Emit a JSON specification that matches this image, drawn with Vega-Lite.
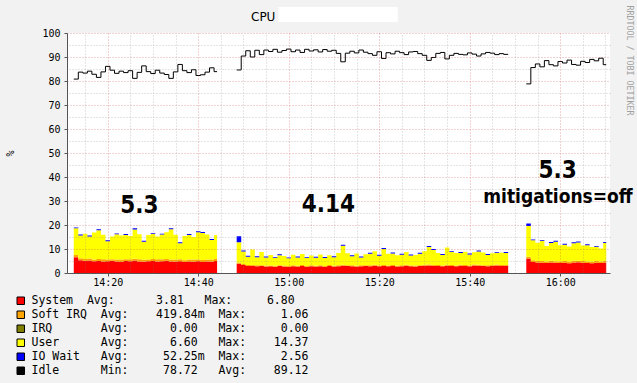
{
  "$schema": "https://vega.github.io/schema/vega-lite/v6.json",
  "width": 543,
  "height": 240,
  "autosize": {"type": "none"},
  "padding": {"left": 67, "top": 33, "right": 27, "bottom": 110},
  "background": "#f2f2f2",
  "view": {"fill": "#ffffff", "stroke": null},
  "title": {"text": "CPU", "anchor": "start", "frame": "group", "dx": 184, "dy": 28, "offset": 0, "baseline": "alphabetic", "font": "DejaVu Sans", "fontSize": 12, "fontWeight": "normal", "color": "#000000"},
  "datasets": {
    "series": [
      {"key": "sys", "name": "System", "ord": 1},
      {"key": "sirq", "name": "Soft IRQ", "ord": 2},
      {"key": "user", "name": "User", "ord": 4},
      {"key": "iow", "name": "IO Wait", "ord": 5}
    ],
    "versions": [
      {"t": "2019-10-01T14:27:00", "v": 25.2, "label": "5.3"},
      {"t": "2019-10-01T15:08:45", "v": 25.5, "label": "4.14"},
      {"t": "2019-10-01T15:59:25", "v": 39.7, "label": "5.3"}
    ],
    "notes": [
      {"t": "2019-10-01T15:59:30", "v": 29.0, "label": "mitigations=off"}
    ],
    "cpu": [
      {"t":"2019-10-01T14:12:30","seg":1,"sys":6.6,"sirq":0.9,"user":11.1,"iow":0.4,"idle":80.8},
      {"t":"2019-10-01T14:13:30","seg":1,"sys":5.3,"sirq":0.8,"user":9.5,"iow":0.4,"idle":83.7},
      {"t":"2019-10-01T14:14:30","seg":1,"sys":5.1,"sirq":0.7,"user":10.6,"iow":0,"idle":83.3},
      {"t":"2019-10-01T14:15:30","seg":1,"sys":5.2,"sirq":0.8,"user":9.2,"iow":0.4,"idle":84.1},
      {"t":"2019-10-01T14:16:30","seg":1,"sys":4.9,"sirq":0.7,"user":11.3,"iow":0,"idle":82.8},
      {"t":"2019-10-01T14:17:30","seg":1,"sys":5.0,"sirq":0.8,"user":12.0,"iow":0.4,"idle":81.5},
      {"t":"2019-10-01T14:18:30","seg":1,"sys":4.8,"sirq":0.9,"user":10.2,"iow":0,"idle":83.8},
      {"t":"2019-10-01T14:19:30","seg":1,"sys":4.9,"sirq":0.7,"user":7.6,"iow":0.4,"idle":86.1},
      {"t":"2019-10-01T14:20:30","seg":1,"sys":5.1,"sirq":0.6,"user":9.5,"iow":0,"idle":84.5},
      {"t":"2019-10-01T14:21:30","seg":1,"sys":4.8,"sirq":0.8,"user":10.5,"iow":0.4,"idle":83.2},
      {"t":"2019-10-01T14:22:30","seg":1,"sys":4.7,"sirq":0.9,"user":10.0,"iow":0,"idle":84.1},
      {"t":"2019-10-01T14:23:30","seg":1,"sys":5.0,"sirq":0.7,"user":10.1,"iow":0.4,"idle":83.5},
      {"t":"2019-10-01T14:24:30","seg":1,"sys":4.9,"sirq":0.8,"user":9.7,"iow":0,"idle":84.3},
      {"t":"2019-10-01T14:25:30","seg":1,"sys":5.2,"sirq":0.7,"user":12.2,"iow":0.5,"idle":81.1},
      {"t":"2019-10-01T14:26:30","seg":1,"sys":4.8,"sirq":0.9,"user":10.4,"iow":0,"idle":83.6},
      {"t":"2019-10-01T14:27:30","seg":1,"sys":4.7,"sirq":0.8,"user":7.5,"iow":0.4,"idle":86.3},
      {"t":"2019-10-01T14:28:30","seg":1,"sys":4.9,"sirq":0.7,"user":10.2,"iow":0,"idle":83.9},
      {"t":"2019-10-01T14:29:30","seg":1,"sys":5.0,"sirq":0.8,"user":10.4,"iow":0.4,"idle":83.1},
      {"t":"2019-10-01T14:30:30","seg":1,"sys":4.8,"sirq":0.9,"user":9.5,"iow":0,"idle":84.5},
      {"t":"2019-10-01T14:31:30","seg":1,"sys":4.9,"sirq":0.8,"user":10.3,"iow":0.4,"idle":83.3},
      {"t":"2019-10-01T14:32:30","seg":1,"sys":5.1,"sirq":0.7,"user":11.2,"iow":0,"idle":82.7},
      {"t":"2019-10-01T14:33:30","seg":1,"sys":4.8,"sirq":0.8,"user":12.6,"iow":0.4,"idle":81.1},
      {"t":"2019-10-01T14:34:30","seg":1,"sys":4.7,"sirq":0.9,"user":10.3,"iow":0,"idle":83.8},
      {"t":"2019-10-01T14:35:30","seg":1,"sys":4.9,"sirq":0.8,"user":6.7,"iow":0.4,"idle":86.9},
      {"t":"2019-10-01T14:36:30","seg":1,"sys":4.6,"sirq":0.7,"user":10.1,"iow":0,"idle":84.3},
      {"t":"2019-10-01T14:37:30","seg":1,"sys":4.8,"sirq":0.8,"user":10.2,"iow":0.4,"idle":83.5},
      {"t":"2019-10-01T14:38:30","seg":1,"sys":4.7,"sirq":0.9,"user":9.4,"iow":0,"idle":84.7},
      {"t":"2019-10-01T14:39:30","seg":1,"sys":4.9,"sirq":0.7,"user":11.4,"iow":0.4,"idle":82.3},
      {"t":"2019-10-01T14:40:30","seg":1,"sys":4.6,"sirq":0.8,"user":11.3,"iow":0.4,"idle":82.6},
      {"t":"2019-10-01T14:41:30","seg":1,"sys":4.8,"sirq":0.8,"user":10.4,"iow":0,"idle":83.7},
      {"t":"2019-10-01T14:42:30","seg":1,"sys":4.7,"sirq":0.9,"user":8.2,"iow":0.4,"idle":85.5},
      {"t":"2019-10-01T14:43:30","seg":1,"sys":5.0,"sirq":0.8,"user":10.0,"iow":0,"idle":83.9},
      {"t":"2019-10-01T14:44:10","seg":1,"sys":5.0,"sirq":0.8,"user":10.0,"iow":0,"idle":83.9},
      {"t":"2019-10-01T14:48:30","seg":2,"sys":3.9,"sirq":0.5,"user":8.4,"iow":2.5,"idle":84.6},
      {"t":"2019-10-01T14:49:30","seg":2,"sys":3.3,"sirq":0.4,"user":5.3,"iow":0.4,"idle":90.4},
      {"t":"2019-10-01T14:50:30","seg":2,"sys":2.9,"sirq":0.4,"user":3.5,"iow":0.4,"idle":92.6},
      {"t":"2019-10-01T14:51:30","seg":2,"sys":3.0,"sirq":0.3,"user":6.5,"iow":0,"idle":90.0},
      {"t":"2019-10-01T14:52:30","seg":2,"sys":2.8,"sirq":0.4,"user":3.4,"iow":0.4,"idle":92.8},
      {"t":"2019-10-01T14:53:30","seg":2,"sys":2.9,"sirq":0.3,"user":5.6,"iow":0,"idle":91.0},
      {"t":"2019-10-01T14:54:30","seg":2,"sys":2.7,"sirq":0.4,"user":3.4,"iow":0.4,"idle":92.9},
      {"t":"2019-10-01T14:55:30","seg":2,"sys":2.8,"sirq":0.3,"user":4.4,"iow":0,"idle":92.3},
      {"t":"2019-10-01T14:56:30","seg":2,"sys":2.6,"sirq":0.4,"user":3.2,"iow":0.4,"idle":93.2},
      {"t":"2019-10-01T14:57:30","seg":2,"sys":2.9,"sirq":0.3,"user":4.2,"iow":0.4,"idle":92.0},
      {"t":"2019-10-01T14:58:30","seg":2,"sys":2.7,"sirq":0.4,"user":4.0,"iow":0,"idle":92.7},
      {"t":"2019-10-01T14:59:30","seg":2,"sys":2.6,"sirq":0.3,"user":3.2,"iow":0.4,"idle":93.3},
      {"t":"2019-10-01T15:00:30","seg":2,"sys":2.8,"sirq":0.4,"user":4.4,"iow":0,"idle":92.2},
      {"t":"2019-10-01T15:01:30","seg":2,"sys":2.7,"sirq":0.3,"user":3.5,"iow":0.4,"idle":92.9},
      {"t":"2019-10-01T15:02:30","seg":2,"sys":2.9,"sirq":0.4,"user":4.6,"iow":0,"idle":91.9},
      {"t":"2019-10-01T15:03:30","seg":2,"sys":2.6,"sirq":0.3,"user":3.3,"iow":0.4,"idle":93.2},
      {"t":"2019-10-01T15:04:30","seg":2,"sys":2.8,"sirq":0.4,"user":4.1,"iow":0,"idle":92.5},
      {"t":"2019-10-01T15:05:30","seg":2,"sys":2.7,"sirq":0.3,"user":3.4,"iow":0.4,"idle":93.0},
      {"t":"2019-10-01T15:06:30","seg":2,"sys":2.8,"sirq":0.4,"user":4.5,"iow":0,"idle":92.1},
      {"t":"2019-10-01T15:07:30","seg":2,"sys":2.6,"sirq":0.3,"user":3.4,"iow":0.4,"idle":93.1},
      {"t":"2019-10-01T15:08:30","seg":2,"sys":2.9,"sirq":0.4,"user":4.1,"iow":0,"idle":92.4},
      {"t":"2019-10-01T15:09:30","seg":2,"sys":2.7,"sirq":0.3,"user":3.6,"iow":0.4,"idle":92.8},
      {"t":"2019-10-01T15:10:30","seg":2,"sys":2.8,"sirq":0.4,"user":5.1,"iow":0,"idle":91.5},
      {"t":"2019-10-01T15:11:30","seg":2,"sys":3.0,"sirq":0.4,"user":8.0,"iow":0.4,"idle":88.0},
      {"t":"2019-10-01T15:12:30","seg":2,"sys":2.9,"sirq":0.3,"user":5.0,"iow":0,"idle":91.6},
      {"t":"2019-10-01T15:13:30","seg":2,"sys":2.8,"sirq":0.4,"user":3.8,"iow":0.4,"idle":92.4},
      {"t":"2019-10-01T15:14:30","seg":2,"sys":2.7,"sirq":0.3,"user":5.1,"iow":0,"idle":91.7},
      {"t":"2019-10-01T15:15:30","seg":2,"sys":2.8,"sirq":0.4,"user":3.3,"iow":0.4,"idle":92.9},
      {"t":"2019-10-01T15:16:30","seg":2,"sys":2.9,"sirq":0.3,"user":4.6,"iow":0,"idle":92.0},
      {"t":"2019-10-01T15:17:30","seg":2,"sys":2.8,"sirq":0.4,"user":4.8,"iow":0.4,"idle":91.4},
      {"t":"2019-10-01T15:18:30","seg":2,"sys":3.0,"sirq":0.4,"user":5.7,"iow":0,"idle":90.7},
      {"t":"2019-10-01T15:19:30","seg":2,"sys":2.8,"sirq":0.3,"user":4.1,"iow":0.4,"idle":92.2},
      {"t":"2019-10-01T15:20:30","seg":2,"sys":2.9,"sirq":0.4,"user":6.7,"iow":0.4,"idle":89.4},
      {"t":"2019-10-01T15:21:30","seg":2,"sys":2.8,"sirq":0.3,"user":4.9,"iow":0,"idle":91.8},
      {"t":"2019-10-01T15:22:30","seg":2,"sys":2.9,"sirq":0.4,"user":4.8,"iow":0.4,"idle":91.3},
      {"t":"2019-10-01T15:23:30","seg":2,"sys":2.7,"sirq":0.3,"user":4.4,"iow":0,"idle":92.4},
      {"t":"2019-10-01T15:24:30","seg":2,"sys":2.8,"sirq":0.4,"user":4.4,"iow":0.4,"idle":91.8},
      {"t":"2019-10-01T15:25:30","seg":2,"sys":3.0,"sirq":0.4,"user":5.4,"iow":0,"idle":91.0},
      {"t":"2019-10-01T15:26:30","seg":2,"sys":2.8,"sirq":0.3,"user":4.2,"iow":0.4,"idle":92.1},
      {"t":"2019-10-01T15:27:30","seg":2,"sys":2.7,"sirq":0.4,"user":4.4,"iow":0,"idle":92.3},
      {"t":"2019-10-01T15:28:30","seg":2,"sys":2.9,"sirq":0.3,"user":4.8,"iow":0.4,"idle":91.4},
      {"t":"2019-10-01T15:29:30","seg":2,"sys":3.0,"sirq":0.4,"user":5.7,"iow":0,"idle":90.7},
      {"t":"2019-10-01T15:30:30","seg":2,"sys":3.1,"sirq":0.4,"user":7.3,"iow":0.4,"idle":88.6},
      {"t":"2019-10-01T15:31:30","seg":2,"sys":3.0,"sirq":0.3,"user":6.3,"iow":0.4,"idle":89.8},
      {"t":"2019-10-01T15:32:30","seg":2,"sys":2.9,"sirq":0.4,"user":5.0,"iow":0,"idle":91.5},
      {"t":"2019-10-01T15:33:30","seg":2,"sys":2.8,"sirq":0.3,"user":4.4,"iow":0.4,"idle":91.9},
      {"t":"2019-10-01T15:34:30","seg":2,"sys":3.0,"sirq":0.4,"user":7.2,"iow":0,"idle":89.2},
      {"t":"2019-10-01T15:35:30","seg":2,"sys":2.9,"sirq":0.4,"user":5.4,"iow":0.4,"idle":90.7},
      {"t":"2019-10-01T15:36:30","seg":2,"sys":2.8,"sirq":0.3,"user":5.2,"iow":0,"idle":91.5},
      {"t":"2019-10-01T15:37:30","seg":2,"sys":3.0,"sirq":0.4,"user":4.9,"iow":0.4,"idle":91.1},
      {"t":"2019-10-01T15:38:30","seg":2,"sys":2.9,"sirq":0.4,"user":5.6,"iow":0,"idle":90.9},
      {"t":"2019-10-01T15:39:30","seg":2,"sys":2.8,"sirq":0.3,"user":4.6,"iow":0.4,"idle":91.7},
      {"t":"2019-10-01T15:40:30","seg":2,"sys":3.1,"sirq":0.4,"user":5.1,"iow":0,"idle":91.2},
      {"t":"2019-10-01T15:41:30","seg":2,"sys":3.0,"sirq":0.4,"user":5.6,"iow":0.4,"idle":90.4},
      {"t":"2019-10-01T15:42:30","seg":2,"sys":2.9,"sirq":0.3,"user":5.3,"iow":0,"idle":91.3},
      {"t":"2019-10-01T15:43:30","seg":2,"sys":2.8,"sirq":0.4,"user":4.3,"iow":0.4,"idle":91.9},
      {"t":"2019-10-01T15:44:30","seg":2,"sys":3.0,"sirq":0.3,"user":4.9,"iow":0,"idle":91.6},
      {"t":"2019-10-01T15:45:30","seg":2,"sys":3.1,"sirq":0.4,"user":4.9,"iow":0.4,"idle":91.0},
      {"t":"2019-10-01T15:46:30","seg":2,"sys":2.9,"sirq":0.4,"user":5.1,"iow":0,"idle":91.4},
      {"t":"2019-10-01T15:47:30","seg":2,"sys":3.0,"sirq":0.3,"user":5.0,"iow":0.4,"idle":91.1},
      {"t":"2019-10-01T15:48:30","seg":2,"sys":3.0,"sirq":0.3,"user":5.0,"iow":0.4,"idle":91.1},
      {"t":"2019-10-01T15:52:30","seg":3,"sys":6.0,"sirq":0.8,"user":12.8,"iow":1.0,"idle":78.8},
      {"t":"2019-10-01T15:53:30","seg":3,"sys":4.6,"sirq":0.7,"user":8.3,"iow":0.4,"idle":85.6},
      {"t":"2019-10-01T15:54:30","seg":3,"sys":4.4,"sirq":0.6,"user":7.6,"iow":0,"idle":87.1},
      {"t":"2019-10-01T15:55:30","seg":3,"sys":4.3,"sirq":0.7,"user":8.4,"iow":0.4,"idle":85.9},
      {"t":"2019-10-01T15:56:30","seg":3,"sys":4.2,"sirq":0.6,"user":6.4,"iow":0,"idle":88.5},
      {"t":"2019-10-01T15:57:30","seg":3,"sys":4.4,"sirq":0.7,"user":7.4,"iow":0.4,"idle":86.8},
      {"t":"2019-10-01T15:58:30","seg":3,"sys":4.3,"sirq":0.6,"user":8.1,"iow":0.4,"idle":86.3},
      {"t":"2019-10-01T15:59:30","seg":3,"sys":4.2,"sirq":0.6,"user":6.8,"iow":0,"idle":88.1},
      {"t":"2019-10-01T16:00:30","seg":3,"sys":4.3,"sirq":0.7,"user":6.8,"iow":0.4,"idle":87.5},
      {"t":"2019-10-01T16:01:30","seg":3,"sys":4.1,"sirq":0.6,"user":6.3,"iow":0,"idle":88.7},
      {"t":"2019-10-01T16:02:30","seg":3,"sys":4.4,"sirq":0.7,"user":7.3,"iow":0.4,"idle":86.9},
      {"t":"2019-10-01T16:03:30","seg":3,"sys":4.5,"sirq":0.6,"user":7.6,"iow":0.4,"idle":86.6},
      {"t":"2019-10-01T16:04:30","seg":3,"sys":4.3,"sirq":0.7,"user":6.5,"iow":0,"idle":88.2},
      {"t":"2019-10-01T16:05:30","seg":3,"sys":4.2,"sirq":0.6,"user":6.8,"iow":0.4,"idle":87.7},
      {"t":"2019-10-01T16:06:30","seg":3,"sys":4.1,"sirq":0.6,"user":6.1,"iow":0,"idle":89.0},
      {"t":"2019-10-01T16:07:30","seg":3,"sys":4.3,"sirq":0.7,"user":5.9,"iow":0.4,"idle":88.4},
      {"t":"2019-10-01T16:08:30","seg":3,"sys":4.2,"sirq":0.6,"user":5.4,"iow":0,"idle":89.5},
      {"t":"2019-10-01T16:09:30","seg":3,"sys":4.4,"sirq":0.7,"user":7.4,"iow":0.4,"idle":86.8},
      {"t":"2019-10-01T16:10:10","seg":3,"sys":4.4,"sirq":0.7,"user":7.4,"iow":0.4,"idle":86.8}
    ]
  },
  "layer": [
    {
      "data": {"name": "cpu"},
      "transform": [
        {"fold": ["sys", "sirq", "user", "iow"], "as": ["key", "val"]},
        {"lookup": "key", "from": {"data": {"name": "series"}, "key": "key", "fields": ["name", "ord"]}},
        {"stack": "val", "groupby": ["t"], "sort": [{"field": "ord", "order": "ascending"}], "offset": "zero", "as": ["lo", "hi"]}
      ],
      "mark": {"type": "area", "interpolate": "step-after", "opacity": 1},
      "encoding": {
        "x": {
          "field": "t", "type": "temporal",
          "scale": {"domain": [
            {"year": 2019, "month": 10, "date": 1, "hours": 14, "minutes": 11},
            {"year": 2019, "month": 10, "date": 1, "hours": 16, "minutes": 11}
          ]},
          "axis": {
            "orient": "bottom",
            "title": null,
            "values": [
              {"year": 2019, "month": 10, "date": 1, "hours": 14, "minutes": 20},
              {"year": 2019, "month": 10, "date": 1, "hours": 14, "minutes": 40},
              {"year": 2019, "month": 10, "date": 1, "hours": 15, "minutes": 0},
              {"year": 2019, "month": 10, "date": 1, "hours": 15, "minutes": 20},
              {"year": 2019, "month": 10, "date": 1, "hours": 15, "minutes": 40},
              {"year": 2019, "month": 10, "date": 1, "hours": 16, "minutes": 0}
            ],
            "format": "%H:%M",
            "grid": true,
            "gridColor": "rgba(190,60,60,0.45)",
            "gridDash": [1, 2],
            "tickSize": 3,
            "tickColor": "#555555",
            "domainColor": "#555555",
            "labelFont": "DejaVu Sans Mono",
            "labelFontSize": 10,
            "labelColor": "#000000",
            "labelPadding": 1,
            "labelFlush": false,
            "zindex": 1
          }
        },
        "y": {
          "field": "hi", "type": "quantitative",
          "scale": {"domain": [0, 100], "nice": false},
          "axis": {
            "orient": "left",
            "title": "%",
            "values": [0, 10, 20, 30, 40, 50, 60, 70, 80, 90, 100],
            "grid": true,
            "gridColor": "rgba(190,60,60,0.45)",
            "gridDash": [1, 2],
            "tickSize": 3,
            "tickColor": "#555555",
            "domainColor": "#555555",
            "labelFont": "DejaVu Sans Mono",
            "labelFontSize": 10,
            "labelColor": "#000000",
            "labelPadding": 4,
            "titleFont": "DejaVu Sans Mono",
            "titleFontSize": 10,
            "titleFontWeight": "normal",
            "titleColor": "#000000",
            "titleX": -57,
            "titleY": 120,
            "titleAngle": -90,
            "titleAlign": "center",
            "titleBaseline": "middle",
            "zindex": 1
          }
        },
        "y2": {"field": "lo"},
        "color": {
          "field": "name", "type": "nominal",
          "scale": {
            "domain": ["System", "Soft IRQ", "IRQ", "User", "IO Wait", "Idle"],
            "range": ["#ff0000", "#ffa500", "#808000", "#ffff00", "#0000ff", "#000000"]
          },
          "legend": {
            "title": null,
            "orient": "none",
            "legendX": -52,
            "legendY": 262,
            "direction": "vertical",
            "padding": 0,
            "symbolType": "square",
            "symbolSize": 56,
            "symbolStrokeColor": "#000000",
            "symbolStrokeWidth": 1,
            "symbolOpacity": 1,
            "labelFont": "DejaVu Sans Mono",
            "labelFontSize": 11.5,
            "labelColor": "#000000",
            "labelLimit": 500,
            "labelOffset": 5,
            "rowPadding": 1.0,
            "labelExpr": "datum.label === 'System' ? 'System\u00a0\u00a0Avg:\u00a0\u00a0\u00a0\u00a0\u00a0\u00a03.81\u00a0\u00a0\u00a0Max:\u00a0\u00a0\u00a0\u00a0\u00a06.80' : datum.label === 'Soft IRQ' ? 'Soft\u00a0IRQ\u00a0\u00a0Avg:\u00a0\u00a0\u00a0\u00a0419.84m\u00a0\u00a0Max:\u00a0\u00a0\u00a0\u00a0\u00a01.06' : datum.label === 'IRQ' ? 'IRQ\u00a0\u00a0\u00a0\u00a0\u00a0\u00a0\u00a0Avg:\u00a0\u00a0\u00a0\u00a0\u00a0\u00a00.00\u00a0\u00a0\u00a0Max:\u00a0\u00a0\u00a0\u00a0\u00a00.00' : datum.label === 'User' ? 'User\u00a0\u00a0\u00a0\u00a0\u00a0\u00a0Avg:\u00a0\u00a0\u00a0\u00a0\u00a0\u00a06.60\u00a0\u00a0\u00a0Max:\u00a0\u00a0\u00a0\u00a014.37' : datum.label === 'IO Wait' ? 'IO\u00a0Wait\u00a0\u00a0\u00a0Avg:\u00a0\u00a0\u00a0\u00a0\u00a052.25m\u00a0\u00a0Max:\u00a0\u00a0\u00a0\u00a0\u00a02.56' : 'Idle\u00a0\u00a0\u00a0\u00a0\u00a0\u00a0Min:\u00a0\u00a0\u00a0\u00a0\u00a078.72\u00a0\u00a0\u00a0Avg:\u00a0\u00a0\u00a0\u00a089.12'"
          }
        },
        "detail": {"field": "seg", "type": "nominal"}
      }
    },
    {
      "data": {"name": "cpu"},
      "mark": {"type": "line", "interpolate": "step-after", "color": "#000000", "strokeWidth": 1},
      "encoding": {
        "x": {
          "field": "t", "type": "temporal",
          "axis": {
            "orient": "top",
            "title": null,
            "values": [
              {"year": 2019, "month": 10, "date": 1, "hours": 14, "minutes": 15},
              {"year": 2019, "month": 10, "date": 1, "hours": 14, "minutes": 25},
              {"year": 2019, "month": 10, "date": 1, "hours": 14, "minutes": 30},
              {"year": 2019, "month": 10, "date": 1, "hours": 14, "minutes": 35},
              {"year": 2019, "month": 10, "date": 1, "hours": 14, "minutes": 45},
              {"year": 2019, "month": 10, "date": 1, "hours": 14, "minutes": 50},
              {"year": 2019, "month": 10, "date": 1, "hours": 14, "minutes": 55},
              {"year": 2019, "month": 10, "date": 1, "hours": 15, "minutes": 5},
              {"year": 2019, "month": 10, "date": 1, "hours": 15, "minutes": 10},
              {"year": 2019, "month": 10, "date": 1, "hours": 15, "minutes": 15},
              {"year": 2019, "month": 10, "date": 1, "hours": 15, "minutes": 25},
              {"year": 2019, "month": 10, "date": 1, "hours": 15, "minutes": 30},
              {"year": 2019, "month": 10, "date": 1, "hours": 15, "minutes": 35},
              {"year": 2019, "month": 10, "date": 1, "hours": 15, "minutes": 45},
              {"year": 2019, "month": 10, "date": 1, "hours": 15, "minutes": 50},
              {"year": 2019, "month": 10, "date": 1, "hours": 15, "minutes": 55},
              {"year": 2019, "month": 10, "date": 1, "hours": 16, "minutes": 5},
              {"year": 2019, "month": 10, "date": 1, "hours": 16, "minutes": 10}
            ],
            "labels": false,
            "ticks": false,
            "domain": false,
            "grid": true,
            "gridColor": "rgba(128,128,128,0.4)",
            "gridDash": [1, 2],
            "zindex": 1
          }
        },
        "y": {
          "field": "idle", "type": "quantitative",
          "axis": {
            "orient": "right",
            "values": [5, 15, 25, 35, 45, 55, 65, 75, 85, 95],
            "labels": false,
            "ticks": false,
            "domain": false,
            "grid": true,
            "gridColor": "rgba(128,128,128,0.4)",
            "gridDash": [1, 2],
            "title": "RRDTOOL / TOBI OETIKER",
            "titleFont": "DejaVu Sans Mono",
            "titleFontSize": 8.3,
            "titleFontWeight": "normal",
            "titleColor": "#a0a0a0",
            "titleAngle": 90,
            "titleX": 18,
            "titleY": -28,
            "titleAlign": "left",
            "titleBaseline": "middle",
            "zindex": 1
          }
        },
        "detail": {"field": "seg", "type": "nominal"}
      }
    },
    {
      "data": {"values": [{}]},
      "mark": {"type": "rect", "color": "#ffffff"},
      "encoding": {
        "x": {"datum": {"year": 2019, "month": 10, "date": 1, "hours": 14, "minutes": 57, "seconds": 42}, "type": "temporal", "axis": null},
        "x2": {"datum": {"year": 2019, "month": 10, "date": 1, "hours": 15, "minutes": 24, "seconds": 6}},
        "y": {"datum": 110.8, "type": "quantitative", "axis": null},
        "y2": {"datum": 104.6}
      }
    },
    {
      "data": {"name": "versions"},
      "mark": {"type": "text", "font": "DejaVu Sans Condensed", "fontWeight": "bold", "fontSize": 24, "align": "center", "baseline": "alphabetic", "color": "#000000"},
      "encoding": {
        "x": {"field": "t", "type": "temporal", "axis": null},
        "y": {"field": "v", "type": "quantitative", "axis": null},
        "text": {"field": "label"}
      }
    },
    {
      "data": {"name": "notes"},
      "mark": {"type": "text", "font": "DejaVu Sans Condensed", "fontWeight": "bold", "fontSize": 19, "align": "center", "baseline": "alphabetic", "color": "#000000"},
      "encoding": {
        "x": {"field": "t", "type": "temporal", "axis": null},
        "y": {"field": "v", "type": "quantitative", "axis": null},
        "text": {"field": "label"}
      }
    }
  ],
  "resolve": {"axis": {"x": "independent", "y": "independent"}}
}
